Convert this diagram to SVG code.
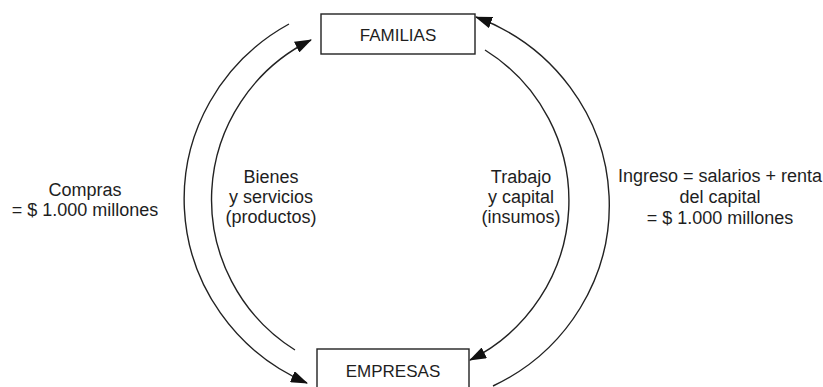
<svg xmlns="http://www.w3.org/2000/svg" width="823" height="387" viewBox="0 0 823 387">
<style>
  .box { fill: #ffffff; stroke: #222222; stroke-width: 1.4; }
  .lbl { font-family: "Liberation Sans", Arial, Helvetica, sans-serif; font-size: 18px; fill: #1e1e1e; text-anchor: middle; }
  .blbl { font-size: 17px; }
  .arc { fill: none; stroke: #222222; stroke-width: 1.4; }
</style>
<defs>
  <marker id="ah" markerUnits="userSpaceOnUse" markerWidth="18" markerHeight="12" refX="16" refY="6" orient="auto">
    <path d="M0,0 L17,6 L0,12 z" fill="#111111"/>
  </marker>
</defs>
<rect width="823" height="387" fill="#ffffff"/>
<g id="connectors">
  <path id="compras" class="arc" d="M289,24 A206,201 0 0 0 307,383" marker-end="url(#ah)"/>
  <path id="bienes" class="arc" d="M295,350 A179,178 0 0 1 311,40" marker-end="url(#ah)"/>
  <path id="ingreso" class="arc" d="M493,386 A206,201 0 0 0 476,17" marker-end="url(#ah)"/>
  <path id="trabajo" class="arc" d="M485,50 A179,178 0 0 1 470,360" marker-end="url(#ah)"/>
</g>
<g id="familias">
  <rect class="box" x="321" y="14" width="154" height="40"/>
  <text class="lbl blbl" x="398" y="41">FAMILIAS</text>
</g>
<g id="empresas">
  <rect class="box" x="317" y="349" width="152" height="45"/>
  <text class="lbl blbl" x="393" y="377">EMPRESAS</text>
</g>
<g id="label-compras">
  <text class="lbl" x="85" y="196">Compras</text>
  <text class="lbl" x="85" y="216">= $ 1.000 millones</text>
</g>
<g id="label-bienes">
  <text class="lbl" x="271" y="183">Bienes</text>
  <text class="lbl" x="271" y="203">y servicios</text>
  <text class="lbl" x="271" y="223">(productos)</text>
</g>
<g id="label-trabajo">
  <text class="lbl" x="521" y="183">Trabajo</text>
  <text class="lbl" x="521" y="203">y capital</text>
  <text class="lbl" x="521" y="223">(insumos)</text>
</g>
<g id="label-ingreso">
  <text class="lbl" x="720" y="182">Ingreso = salarios + renta</text>
  <text class="lbl" x="720" y="203">del capital</text>
  <text class="lbl" x="720" y="224">= $ 1.000 millones</text>
</g>
</svg>
